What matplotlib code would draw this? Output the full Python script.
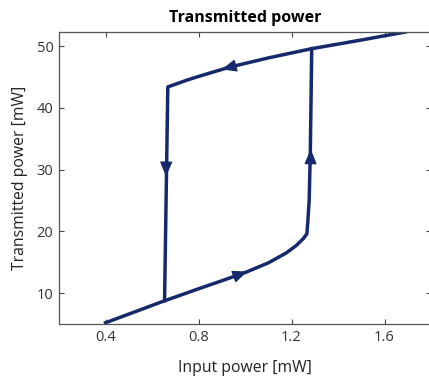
import matplotlib.pyplot as plt

# switching up: lower branch then jump to the upper state
up_x = [0.40, 0.654, 0.80, 0.90, 1.005, 1.10, 1.177, 1.22, 1.25, 1.266, 1.270, 1.276, 1.281, 1.287]
up_y = [5.2, 8.76, 10.7, 12.0, 13.4, 14.9, 16.5, 17.7, 18.8, 19.6, 21.5, 25.0, 33.0, 49.6]
# switching down: upper branch then drop to the lower state
down_x = [1.69, 1.50, 1.287, 1.10, 0.933, 0.80, 0.75, 0.668, 0.654]
down_y = [52.3, 51.0, 49.6, 48.1, 46.6, 45.1, 44.5, 43.4, 8.76]

# direction arrows (base -> tip)
arrows = [((0.96, 12.8), (1.01, 13.5)),
          ((1.282, 30.8), (1.283, 33.3)),
          ((0.965, 46.9), (0.90, 46.25)),
          ((0.661, 30.8), (0.660, 28.9))]

xticks = [0.4, 0.8, 1.2, 1.6]
yticks = [10, 20, 30, 40, 50]

col = '#15296c'
plt.rcParams['font.family'] = ['Open Sans', 'DejaVu Sans']

fig = plt.figure(figsize=(4.29, 3.80), dpi=100)
ax = fig.add_axes([59/429, 56/380, 372/429, 292/380])

ax.plot(up_x, up_y, color=col, lw=2.5, solid_joinstyle='round')
ax.plot(down_x, down_y, color=col, lw=2.5, solid_joinstyle='round')
for base, tip in arrows:
    ax.annotate('', xy=tip, xytext=base,
                arrowprops=dict(arrowstyle='-|>,head_length=0.9,head_width=0.38',
                                color=col, lw=1, shrinkA=0, shrinkB=0))

ax.set_xlim(0.2, 1.8)
ax.set_ylim(5, 52.3)
ax.set_xticks(xticks)
ax.set_xticklabels(['0.4', '0.8', '1.2', '1.6'])
ax.set_yticks(yticks)
ax.tick_params(direction='in', length=3.5, width=0.8, color='#444444',
               top=True, right=True, labelsize=10.5, labelcolor='#333333', pad=4)
for s in ax.spines.values():
    s.set_color('#555555')
    s.set_linewidth(0.9)

ax.set_title('Transmitted power', fontsize=11.5, fontweight='bold', pad=7)
ax.set_xlabel('Input power [mW]', fontsize=11.3, color='#222222', labelpad=11)
ax.set_ylabel('Transmitted power [mW]', fontsize=11.3, color='#222222', labelpad=6)

fig.savefig('out.png', dpi=100)
